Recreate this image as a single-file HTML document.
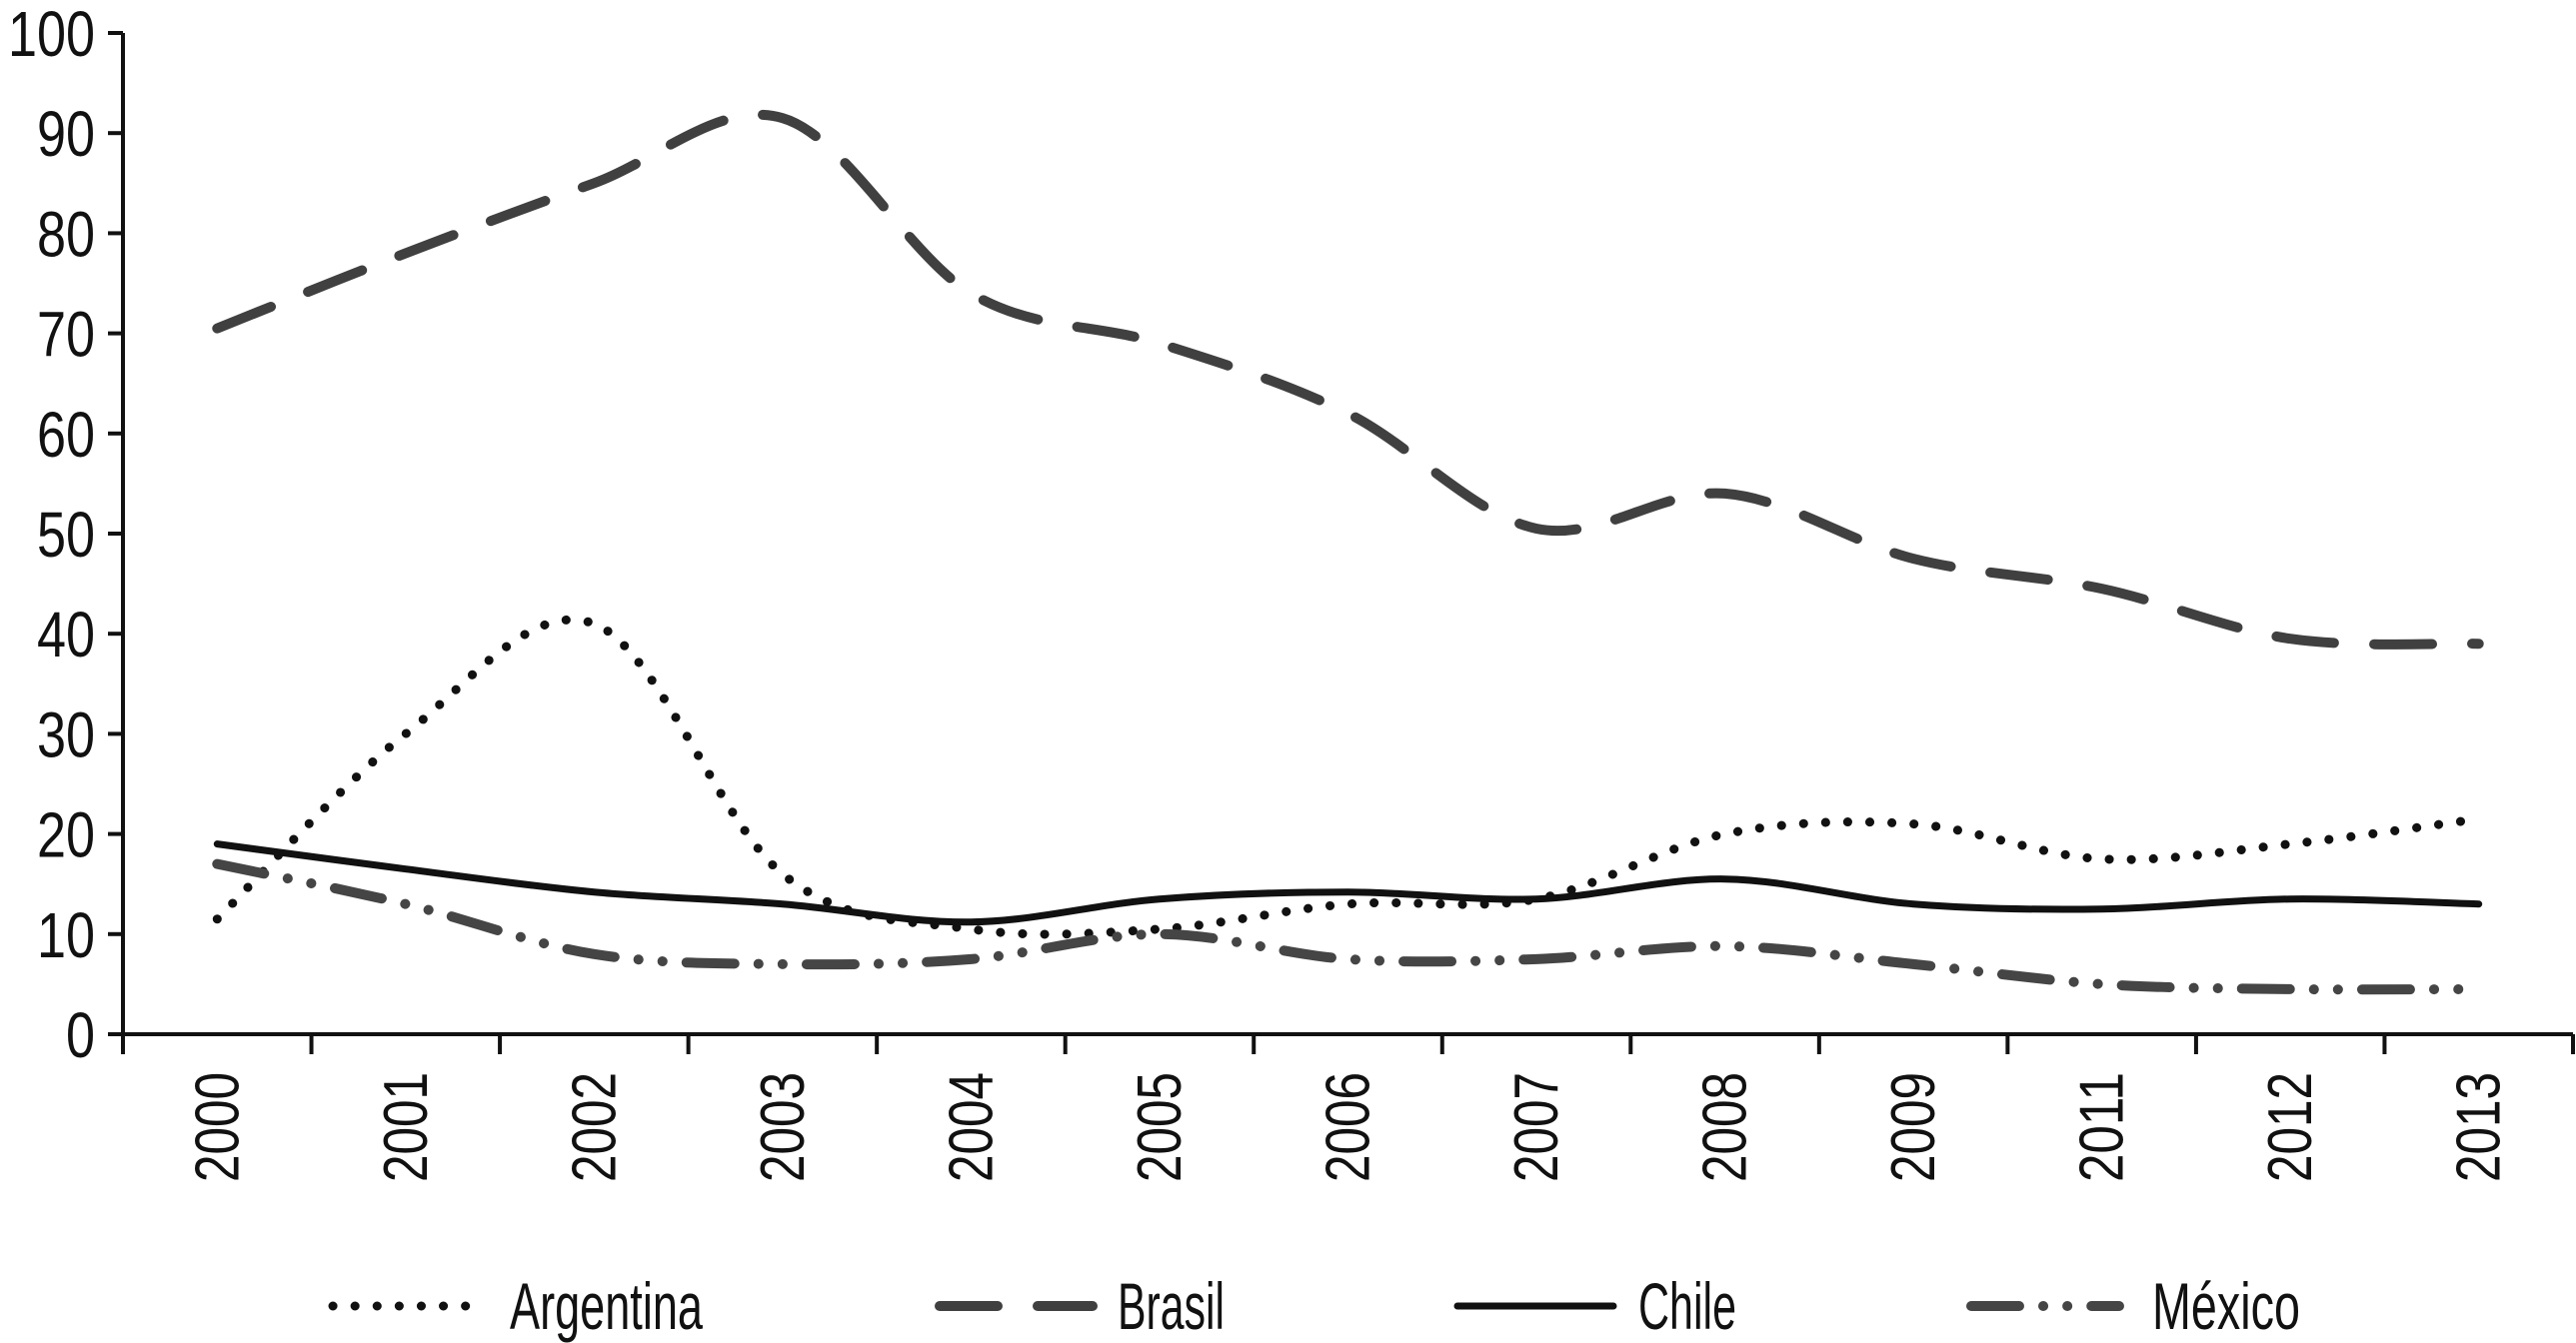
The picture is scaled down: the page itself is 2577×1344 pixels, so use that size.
<!DOCTYPE html>
<html><head><meta charset="utf-8"><style>
html,body{margin:0;padding:0;background:#fff;}
svg{display:block;}
text{font-family:"Liberation Sans Narrow","Liberation Sans",sans-serif;fill:#111;}
</style></head><body>
<svg id="chart" width="2577" height="1344" viewBox="0 0 2577 1344" xmlns="http://www.w3.org/2000/svg">
<g id="axes"></g>
<g id="series"></g>
<g id="legend"></g>
</svg>
<script>
const categories = ["2000","2001","2002","2003","2004","2005","2006","2007","2008","2009","2011","2012","2013"];
const argentina = [11.5,30,41,16,10.5,10.5,13,13.5,20,21,17.5,19,21.5];
const brasil = [70.5,78,85,91.5,74,69,62,50.5,54,47.5,44.5,39.5,39];
const chile = [19,16.5,14.2,13,11.2,13.5,14.2,13.5,15.5,13,12.5,13.5,13];
const mexico = [17,13,8,7,7.5,10,7.5,7.5,8.8,7,5,4.5,4.5];
const yTicks = [0,10,20,30,40,50,60,70,80,90,100];

const NS="http://www.w3.org/2000/svg";
const X0=123,X1=2574,Y0=1035,Y100=33;
const band=(X1-X0)/categories.length;
function xPos(i){return X0+band*(i+0.5);}
function yPos(v){return Y0-(Y0-Y100)*v/100;}
function mk(tag,attrs,parent){const e=document.createElementNS(NS,tag);for(const k in attrs)e.setAttribute(k,attrs[k]);parent.appendChild(e);return e;}
const axes=document.getElementById('axes'),series=document.getElementById('series'),legend=document.getElementById('legend');

const ya=mk('line',{x1:X0,y1:Y100,x2:X0,y2:Y0+3,stroke:'#111','stroke-width':4},axes);


const xa=mk('line',{x1:X0-15,y1:Y0,x2:X1,y2:Y0,stroke:'#111','stroke-width':4},axes);


yTicks.forEach(t=>{
  const y=yPos(t);
  mk('line',{x1:X0-15,y1:y,x2:X0,y2:y,stroke:'#111','stroke-width':4},axes);
  const s=String(t);
  const tx=mk('text',{x:X0-28,y:y+23,'text-anchor':'end','font-size':64,textLength:s.length*29,lengthAdjust:'spacingAndGlyphs'},axes);
  tx.textContent=s;
  
  
});
for(let i=0;i<=categories.length;i++){
  const x=X0+band*i;
  mk('line',{x1:x,y1:Y0,x2:x,y2:Y0+20,stroke:'#111','stroke-width':4},axes);
}
categories.forEach((c,i)=>{
  const x=xPos(i)+21,y=1073;
  const tx=mk('text',{x:x,y:y,'text-anchor':'end','font-size':62,textLength:110,lengthAdjust:'spacingAndGlyphs',transform:`rotate(-90 ${x} ${y})`},axes);
  tx.textContent=c;
  
  
});

function smoothPath(vals){
  const p=vals.map((v,i)=>[xPos(i),yPos(v)]);
  let d=`M${p[0][0]},${p[0][1]}`;
  for(let i=0;i<p.length-1;i++){
    const p0=p[i-1]||p[i],p1=p[i],p2=p[i+1],p3=p[i+2]||p[i+1];
    const t=1/6;
    const c1=[p1[0]+(p2[0]-p0[0])*t,p1[1]+(p2[1]-p0[1])*t];
    const c2=[p2[0]-(p3[0]-p1[0])*t,p2[1]-(p3[1]-p1[1])*t];
    d+=` C${c1[0]},${c1[1]} ${c2[0]},${c2[1]} ${p2[0]},${p2[1]}`;
  }
  return d;
}
const styles={
  argentina:{stroke:'#111',w:9,dash:'0.1 22'},
  brasil:{stroke:'#404040',w:10,dash:'58 40'},
  chile:{stroke:'#111',w:7,dash:'none'},
  mexico:{stroke:'#454545',w:10,dash:'48 24 0.1 24 0.1 24'}
};
const s1=mk('path',{d:smoothPath(brasil),fill:'none',stroke:styles.brasil.stroke,'stroke-width':styles.brasil.w,'stroke-dasharray':styles.brasil.dash,'stroke-linecap':'round'},series);


const s2=mk('path',{d:smoothPath(argentina),fill:'none',stroke:styles.argentina.stroke,'stroke-width':styles.argentina.w,'stroke-dasharray':styles.argentina.dash,'stroke-linecap':'round'},series);


const s3=mk('path',{d:smoothPath(chile),fill:'none',stroke:styles.chile.stroke,'stroke-width':styles.chile.w,'stroke-linecap':'round'},series);


const s4=mk('path',{d:smoothPath(mexico),fill:'none',stroke:styles.mexico.stroke,'stroke-width':styles.mexico.w,'stroke-dasharray':styles.mexico.dash,'stroke-linecap':'round'},series);



const legItems=[
  {name:'Argentina',st:styles.argentina,lx:333,lx2:477,tx:510,tw:193},
  {name:'Brasil',st:styles.brasil,lx:940,lx2:1093,tx:1118,tw:107},
  {name:'Chile',st:styles.chile,lx:1458,lx2:1614,tx:1639,tw:98},
  {name:'México',st:styles.mexico,lx:1972,lx2:2120,tx:2153,tw:148}
];
legItems.forEach(it=>{
  const g=mk('g',{},legend);
  
  
  const a={x1:it.lx,y1:1307,x2:it.lx2,y2:1307,stroke:it.st.stroke,'stroke-width':it.st.w,'stroke-linecap':'round'};
  if(it.st.dash!=='none')a['stroke-dasharray']=it.st.dash;
  mk('line',a,g);
  const t=mk('text',{x:it.tx,y:1330,'font-size':66,textLength:it.tw,lengthAdjust:'spacingAndGlyphs'},g);
  t.textContent=it.name;
});
</script>
</body></html>
